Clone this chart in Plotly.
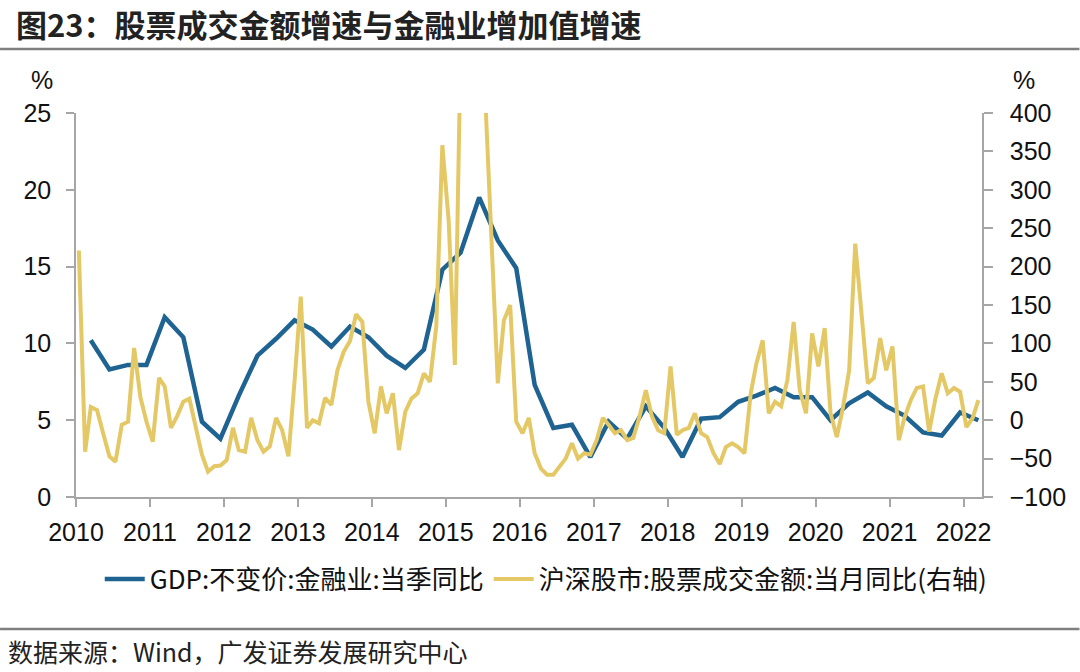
import pandas as pd
import plotly.graph_objects as go

# GDP: constant price: financial sector: quarterly YoY (%), 2010Q1 - 2022Q1
gdp_fin = [10.2, 8.3, 8.6, 8.6, 11.7, 10.4, 4.9, 3.8,
           6.6, 9.2, 10.3, 11.5, 10.9, 9.8, 11.1, 10.4,
           9.2, 8.4, 9.6, 14.8, 15.9, 19.5, 16.7, 14.9,
           7.3, 4.5, 4.7, 2.6, 4.9, 3.8, 5.9, 4.5,
           2.6, 5.1, 5.2, 6.2, 6.6, 7.1, 6.5, 6.5,
           5.0, 6.1, 6.8, 5.9, 5.3, 4.2, 4.0, 5.5,
           5.0]

# Shanghai+Shenzhen stock turnover: monthly YoY (%), Jan 2010 - Mar 2022
stock_turnover = [221, -41, 17, 13, -17, -47, -54, -6, -2, 94, 30, -2,
                  -28, 55, 44, -10, 5, 24, 28, -10, -45, -67, -60, -59,
                  -52, -10, -39, -41, 3, -26, -41, -34, 3, -13, -47, 50,
                  161, -10, 0, -4, 29, 20, 65, 89, 103, 138, 128, 24,
                  -17, 44, 9, 35, -39, 11, 28, 35, 61, 50, 122, 358,
                  261, 72, 480, 650, 700, 600, 420, 250, 48, 130, 150, -2,
                  -17, 3, -43, -63, -71, -71, -60, -50, -30, -50, -43, -45,
                  -26, 3, -6, -17, -13, -26, -23, 5, 39, 5, -13, -17,
                  70, -19, -13, -10, 9, -17, -22, -43, -57, -35, -30, -35,
                  -43, 35, 74, 104, 9, 24, 18, 52, 128, 39, 9, 113,
                  70, 120, 9, -22, 16, 65, 230, 135, 48, 55, 107, 65,
                  96, -26, 3, 26, 42, 44, -15, 28, 61, 35, 42, 37,
                  -9, 3, 26]

year_ticks = [str(y) for y in range(2010, 2023)]
left_ticks = [0, 5, 10, 15, 20, 25]
right_ticks = [-100, -50, 0, 50, 100, 150, 200, 250, 300, 350, 400]

name_gdp = "GDP:不变价:金融业:当季同比"
name_stock = "沪深股市:股票成交金额:当月同比(右轴)"
title_text = "<b>图23：股票成交金额增速与金融业增加值增速</b>"
source_text = "数据来源：Wind，广发证券发展研究中心"

gdp_dates = pd.date_range("2010-03-01", periods=len(gdp_fin), freq="3MS") + pd.Timedelta(days=14)
stock_dates = pd.date_range("2010-01-01", periods=len(stock_turnover), freq="MS") + pd.Timedelta(days=14)

BLUE = "#1E6391"
GOLD = "#E5C866"
AXIS = "#A6A6A6"
FONT = "Liberation Sans, Noto Sans CJK SC, sans-serif"
CJK = "Noto Sans CJK SC, sans-serif"

fig = go.Figure()
fig.add_trace(go.Scatter(x=gdp_dates, y=gdp_fin, name=name_gdp, mode="lines",
                         line=dict(color=BLUE, width=4.5), yaxis="y"))
fig.add_trace(go.Scatter(x=stock_dates, y=stock_turnover, name=name_stock, mode="lines",
                         line=dict(color=GOLD, width=4), yaxis="y2"))

W, H = 1080, 672
L, R, T, B = 76, 97.5, 113, 175
pw, ph = W - L - R, H - T - B

def px(x):
    return (x - L) / pw

def py(y):
    return (H - B - y) / ph

fig.update_layout(
    width=W, height=H,
    margin=dict(l=L, r=R, t=T, b=B, pad=0),
    paper_bgcolor="white", plot_bgcolor="white",
    font=dict(family=FONT, size=25, color="#111111"),
    title=dict(text=title_text, xref="container", yref="container",
               x=16 / W, y=1 - 26 / H, xanchor="left", yanchor="middle",
               font=dict(family=CJK, size=31, color="#222222")),
    xaxis=dict(type="date", range=["2010-01-01", "2022-04-02"],
               tick0="2010-01-01", dtick="M12", tickformat="%Y",
               showgrid=False, zeroline=False,
               showline=True, linecolor=AXIS, linewidth=1.5,
               ticks="outside", ticklen=8, tickwidth=1.5, tickcolor=AXIS,
               ticklabelstandoff=4,
               tickfont=dict(family=FONT, size=25, color="#111111")),
    yaxis=dict(range=[0, 25], tickvals=left_ticks, showgrid=False, zeroline=False,
               showline=True, linecolor=AXIS, linewidth=1.5,
               ticks="outside", ticklen=8, tickwidth=1.5, tickcolor=AXIS,
               ticklabelstandoff=10,
               tickfont=dict(family=FONT, size=25, color="#111111")),
    yaxis2=dict(range=[-100, 400], tickvals=right_ticks, overlaying="y", side="right",
                showgrid=False, zeroline=False,
                showline=True, linecolor=AXIS, linewidth=1.5,
                ticks="outside", ticklen=9, tickwidth=1.5, tickcolor=AXIS,
                ticklabelstandoff=12,
                tickfont=dict(family=FONT, size=25, color="#111111")),
    legend=dict(orientation="h", x=px(546), y=py(579), xanchor="center", yanchor="middle",
                font=dict(family=CJK, size=26, color="#111111"),
                bgcolor="rgba(0,0,0,0)", itemwidth=40, tracegroupgap=0),
    showlegend=True,
)

fig.add_shape(type="line", xref="paper", yref="paper",
              x0=px(0), x1=px(W), y0=py(49), y1=py(49),
              line=dict(color="#7F7F7F", width=2.5))
fig.add_shape(type="line", xref="paper", yref="paper",
              x0=px(0), x1=px(W), y0=py(629), y1=py(629),
              line=dict(color="#7F7F7F", width=2.5))

fig.add_annotation(text="%", xref="paper", yref="paper", x=px(42), y=py(80),
                   showarrow=False, xanchor="center", yanchor="middle",
                   font=dict(family=FONT, size=25, color="#111111"))
fig.add_annotation(text="%", xref="paper", yref="paper", x=px(1025), y=py(80),
                   showarrow=False, xanchor="center", yanchor="middle",
                   font=dict(family=FONT, size=25, color="#111111"))
fig.add_annotation(text=source_text, xref="paper", yref="paper", x=px(6), y=py(651),
                   showarrow=False, xanchor="left", yanchor="middle",
                   font=dict(family=CJK, size=25, color="#222222"))

fig.write_html("out.html", config={"displayModeBar": False},
               post_script="document.body.style.margin='0';document.body.style.overflow='hidden';")
